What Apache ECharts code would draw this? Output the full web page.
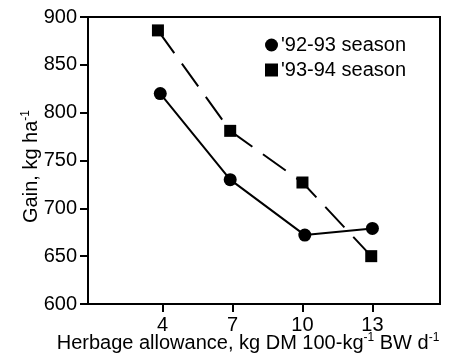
<!DOCTYPE html>
<html>
<head>
<meta charset="utf-8">
<script src="https://cdn.jsdelivr.net/npm/echarts@6/dist/echarts.min.js"></script>
<style>
  html, body { margin: 0; padding: 0; background: #fff; }
  #chart { width: 457px; height: 357px; }
</style>
</head>
<body>
<div id="chart"></div>
<script>
var xTicks = [4, 7, 10, 13]
var season1X = [3.9, 6.9, 10.1, 13]
var season1Gain = [820, 730, 672, 679]
var season2X = [3.8, 6.9, 10, 12.95]
var season2Gain = [886, 781, 727, 650]
var seriesNames = ["'92-93 season", "'93-94 season"]

var chart = echarts.init(document.getElementById('chart'))
var font = 'Liberation Sans, Arial, sans-serif'

function pairs(xs, ys) {
  return xs.map(function (x, i) { return [x, ys[i]] })
}

chart.setOption({
  animation: false,
  grid: {
    left: 88,
    right: 17,
    top: 17,
    bottom: 53,
    outerBoundsMode: 'none',
    show: true,
    borderColor: '#000',
    borderWidth: 2
  },
  legend: {
    orient: 'vertical',
    left: 260,
    top: 30,
    itemWidth: 13,
    itemHeight: 13,
    itemGap: 5,
    textStyle: { fontFamily: font, fontSize: 20, color: '#000', padding: [0, 0, 0, -2] },
    data: [
      { name: seriesNames[0], icon: 'circle' },
      { name: seriesNames[1], icon: 'rect' }
    ]
  },
  xAxis: {
    type: 'value',
    min: 0.8,
    max: 15.9,
    splitLine: { show: false },
    axisLine: { lineStyle: { color: '#000', width: 2 } },
    axisTick: { customValues: xTicks, length: 8, lineStyle: { color: '#000', width: 2 } },
    axisLabel: { customValues: xTicks, margin: 11, fontFamily: font, fontSize: 20, color: '#000' },
    name: '{t|Herbage allowance, kg DM 100-kg}{s|-1}{t| BW d}{s|-1}',
    nameLocation: 'middle',
    nameMoveOverlap: false,
    nameGap: 28,
    nameTextStyle: {
      padding: [0, 32, 0, 0],
      rich: {
        t: { fontFamily: font, fontSize: 20, color: '#000' },
        s: { fontFamily: font, fontSize: 12, color: '#000', padding: [0, 0, 10, 0] }
      }
    }
  },
  yAxis: {
    type: 'value',
    min: 600,
    max: 900,
    interval: 50,
    splitLine: { show: false },
    axisLine: { show: true, lineStyle: { color: '#000', width: 2 } },
    axisTick: { length: 8, lineStyle: { color: '#000', width: 2 } },
    axisLabel: { margin: 11, fontFamily: font, fontSize: 20, color: '#000' },
    name: '{t|Gain, kg ha}{s|-1}',
    nameLocation: 'middle',
    nameMoveOverlap: false,
    nameRotate: 90,
    nameGap: 46,
    nameTextStyle: {
      padding: [0, 12, 0, 0],
      rich: {
        t: { fontFamily: font, fontSize: 20, color: '#000' },
        s: { fontFamily: font, fontSize: 12, color: '#000', padding: [0, 0, 10, 0] }
      }
    }
  },
  series: [
    {
      name: seriesNames[0],
      type: 'line',
      symbol: 'circle',
      symbolSize: 13,
      itemStyle: { color: '#000' },
      lineStyle: { color: '#000', width: 2 },
      data: pairs(season1X, season1Gain)
    },
    {
      name: seriesNames[1],
      type: 'line',
      symbol: 'rect',
      symbolSize: 12,
      itemStyle: { color: '#000' },
      lineStyle: { color: '#000', width: 2, type: [28, 13] },
      data: pairs(season2X, season2Gain)
    }
  ]
})
</script>
</body>
</html>
